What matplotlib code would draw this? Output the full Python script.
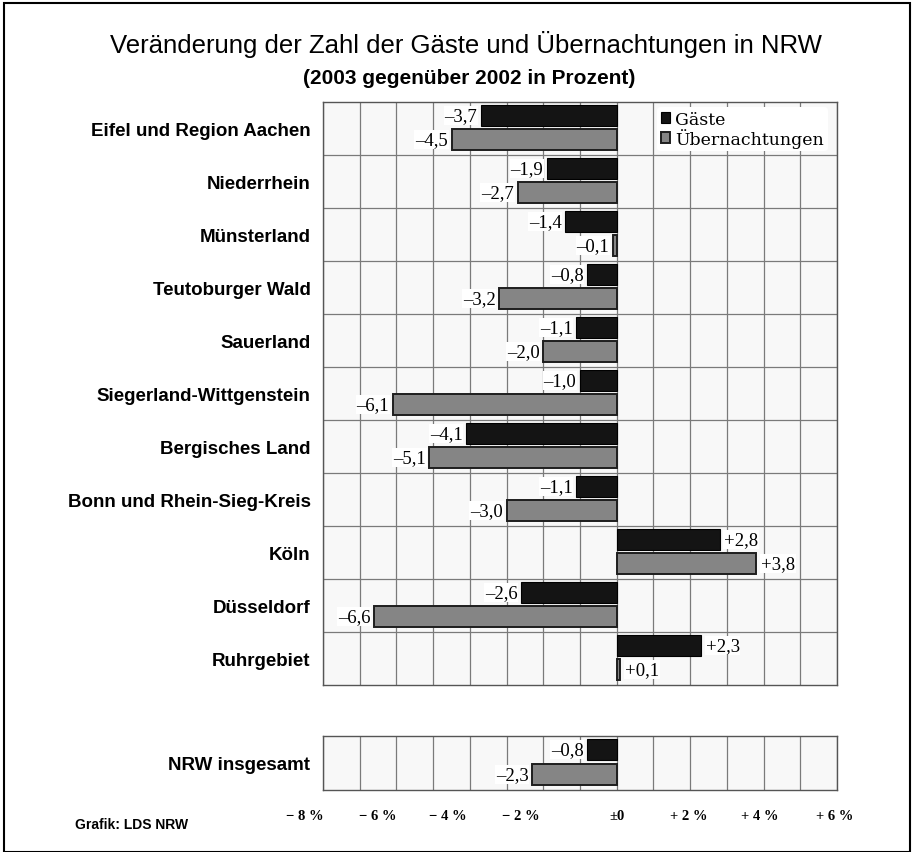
import matplotlib
matplotlib.use("Agg")
import matplotlib.pyplot as plt
from matplotlib.transforms import ScaledTranslation
from matplotlib.patches import Rectangle
from matplotlib import font_manager as fm

regions = ["Eifel und Region Aachen", "Niederrhein", "Münsterland", "Teutoburger Wald",
           "Sauerland", "Siegerland-Wittgenstein", "Bergisches Land",
           "Bonn und Rhein-Sieg-Kreis", "Köln", "Düsseldorf", "Ruhrgebiet"]
gaeste = [-3.7, -1.9, -1.4, -0.8, -1.1, -1.0, -4.1, -1.1, 2.8, -2.6, 2.3]
uebern = [-4.5, -2.7, -0.1, -3.2, -2.0, -6.1, -5.1, -3.0, 3.8, -6.6, 0.1]
total_label = "NRW insgesamt"
total_gaeste = [-0.8]
total_uebern = [-2.3]
tick_vals = [-8, -6, -4, -2, 0, 2, 4, 6]
tick_labels = ["\u2212 8 %", "\u2212 6 %", "\u2212 4 %", "\u2212 2 %", "±0", "+ 2 %", "+ 4 %", "+ 6 %"]

avail = {f.name for f in fm.fontManager.ttflist}
sans = "Liberation Sans" if "Liberation Sans" in avail else "DejaVu Sans"
serif = "Liberation Serif" if "Liberation Serif" in avail else "DejaVu Serif"

W, H = 915, 853
fig = plt.figure(figsize=(W / 100, H / 100), dpi=100)
fig.patches.append(Rectangle((4 / W, 0), (910 - 4) / W, 1 - 4 / H, transform=fig.transFigure,
                             fill=False, edgecolor="black", linewidth=1.5))

fig.text(466 / W, 1 - 44 / H, "Veränderung der Zahl der Gäste und Übernachtungen in NRW",
         ha="center", va="center", fontsize=18.5, family=sans)
fig.text(469 / W, 1 - 78 / H, "(2003 gegenüber 2002 in Prozent)",
         ha="center", va="center", fontsize=15, family=sans, fontweight="bold")
fig.text(75 / W, 1 - 825 / H, "Grafik: LDS NRW", ha="left", va="center",
         fontsize=10, family=sans, fontweight="bold")

xl, xr = 323 / W, 837 / W
ax = fig.add_axes([xl, 1 - 686 / H, xr - xl, (686 - 103) / H])
ax2 = fig.add_axes([xl, 1 - 791 / H, xr - xl, (791 - 737) / H])

GCOL = "#141414"
UCOL = "#858585"
bh = 0.39


def fmt(v):
    s = f"{abs(v):.1f}".replace(".", ",")
    return ("+" if v > 0 else "\u2013") + s


def draw(a, names, g, u):
    n = len(names)
    ys = list(range(n))
    yg = [y - 0.25 for y in ys]
    yu = [y + 0.21 for y in ys]
    a.barh(yg, g, height=bh, color=GCOL, edgecolor="black", linewidth=0.8, zorder=3, label="Gäste")
    a.barh(yu, u, height=bh, color=UCOL, edgecolor="#1e1e1e", linewidth=1.4, zorder=3,
           label="Übernachtungen")
    for yy, vals in ((yg, g), (yu, u)):
        for y, v in zip(yy, vals):
            off = 0.12 if v > 0 else -0.1
            a.text(v + off, y, fmt(v), ha="left" if v > 0 else "right", va="center",
                   fontsize=13.5, family=serif, zorder=4,
                   bbox=dict(facecolor="white", edgecolor="none", pad=0.5))
    a.set_xlim(-8, 6)
    a.set_ylim(n - 0.5, -0.5)
    a.set_yticks(ys)
    a.set_yticklabels(names, fontsize=13.5, family=sans, fontweight="bold")
    a.set_yticks([y + 0.5 for y in ys[:-1]], minor=True)
    a.set_xticks(tick_vals)
    a.set_xticks([v for v in range(-7, 6, 2)], minor=True)
    a.tick_params(axis="both", which="both", length=0)
    a.tick_params(axis="y", pad=9)
    a.grid(True, axis="x", which="both", color="#7a7a7a", linewidth=0.9, zorder=0)
    a.grid(True, axis="y", which="minor", color="#7a7a7a", linewidth=0.9, zorder=0)
    a.set_axisbelow(True)
    a.set_facecolor("#f8f8f8")
    for s in a.spines.values():
        s.set_color("#555555")
        s.set_linewidth(1.0)


draw(ax, regions, gaeste, uebern)
draw(ax2, [total_label], total_gaeste, total_uebern)
ax.set_xticklabels([])
ax2.set_xticklabels(tick_labels, fontsize=10.5, family=serif, fontweight="bold")
ax2.tick_params(axis="x", pad=14)
shifts = [-18, -19, -22, -22, 0, -1, -4, -2]
for lab, dx in zip(ax2.get_xticklabels(), shifts):
    lab.set_transform(lab.get_transform() + ScaledTranslation(dx / 100, 0, fig.dpi_scale_trans))

leg = ax.legend(loc="upper left", bbox_to_anchor=(0.64, 1.0), frameon=True,
                handlelength=0.55, handleheight=0.55, handletextpad=0.3, labelspacing=0.0,
                borderpad=0.2, borderaxespad=0.3, prop=dict(family="DejaVu Serif", size=12.5))
leg.get_frame().set_facecolor("white")
leg.get_frame().set_edgecolor("none")
leg.get_frame().set_alpha(1)

fig.savefig("out.png", dpi=100)
